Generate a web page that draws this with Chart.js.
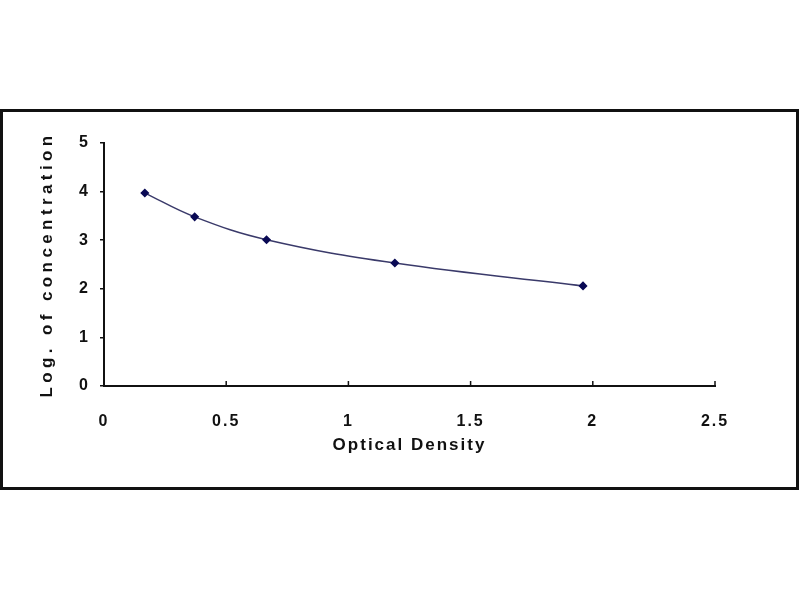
<!DOCTYPE html>
<html>
<head>
<meta charset="utf-8">
<script src="https://cdn.jsdelivr.net/npm/chart.js@4/dist/chart.umd.min.js"></script>
<style>
  html, body { margin: 0; padding: 0; background: #fff; }
  #frame { position: absolute; left: 0; top: 109px; width: 793px; height: 375px; border: 3px solid #111; background: #fff; }
  #chart { display: block; }
</style>
</head>
<body>
<div id="frame"><canvas id="chart" width="793" height="375"></canvas></div>
<script>
// Standard curve
const opticalDensity = [0.167, 0.371, 0.665, 1.19, 1.96];
const logConcentration = [3.97, 3.48, 3.01, 2.53, 2.06];
const xTicks = [0, 0.5, 1, 1.5, 2, 2.5];
const yTicks = [0, 1, 2, 3, 4, 5];

const ink = '#111';
const font = { family: '"Liberation Sans", Arial, sans-serif', weight: 'bold', size: 16 };

// wider text like the stretched original
const spacing = {
  id: 'spacing',
  beforeLayout(chart) { chart.ctx.letterSpacing = '2px'; },
  beforeDraw(chart) {
    chart.ctx.letterSpacing = '2px';
    const y = chart.scales.y;
    if (!y._wide) {
      const orig = y.drawTitle;
      y.drawTitle = function () {
        this.ctx.save(); this.ctx.letterSpacing = '4.4px'; orig.call(this); this.ctx.restore();
      };
      y._wide = true;
    }
  }
};

// x ticks point up into the plot
const innerTicks = {
  id: 'innerTicks',
  afterDraw(chart) {
    const { ctx, scales: { x } } = chart;
    ctx.save();
    ctx.strokeStyle = ink; ctx.lineWidth = 1.5;
    xTicks.forEach(v => {
      const px = x.getPixelForValue(v);
      ctx.beginPath(); ctx.moveTo(px, x.top); ctx.lineTo(px, x.top - 5); ctx.stroke();
    });
    ctx.restore();
  }
};

new Chart(document.getElementById('chart'), {
  type: 'scatter',
  data: {
    datasets: [{
      data: opticalDensity.map((v, i) => ({ x: v, y: logConcentration[i] })),
      showLine: true,
      tension: 0.4,
      borderColor: '#3a3a6a',
      borderWidth: 1.5,
      pointStyle: 'rectRot',
      pointRadius: 3.5,
      pointBackgroundColor: '#0a0a55',
      pointBorderColor: '#0a0a55'
    }]
  },
  options: {
    responsive: false,
    animation: false,
    layout: { padding: { top: 31, right: 81, left: 0, bottom: 0 } },
    plugins: { legend: { display: false }, tooltip: { enabled: false } },
    scales: {
      x: {
        min: 0, max: 2.5,
        afterBuildTicks: s => { s.ticks = xTicks.map(v => ({ value: v })); },
        afterFit: s => { s.height = 101; },
        ticks: { color: ink, font, padding: 18, maxRotation: 0, callback: v => String(v) },
        grid: { display: false },
        border: { display: true, color: ink, width: 2 },
        title: { display: true, text: 'Optical Density', color: ink, font: { ...font, size: 17 }, padding: { top: 0, bottom: 31 } }
      },
      y: {
        min: 0, max: 5,
        afterBuildTicks: s => { s.ticks = yTicks.map(v => ({ value: v })); },
        afterFit: s => { s.width = 101; },
        ticks: { color: ink, font, padding: 10 },
        grid: { drawOnChartArea: false, drawTicks: true, tickLength: 4, color: ink, lineWidth: 1.5 },
        border: { display: true, color: ink, width: 2 },
        title: { display: true, text: 'Log. of concentration', color: ink, font: { ...font, size: 17 }, padding: { top: 34, bottom: 0 } }
      }
    }
  },
  plugins: [spacing, innerTicks]
});
</script>
</body>
</html>
